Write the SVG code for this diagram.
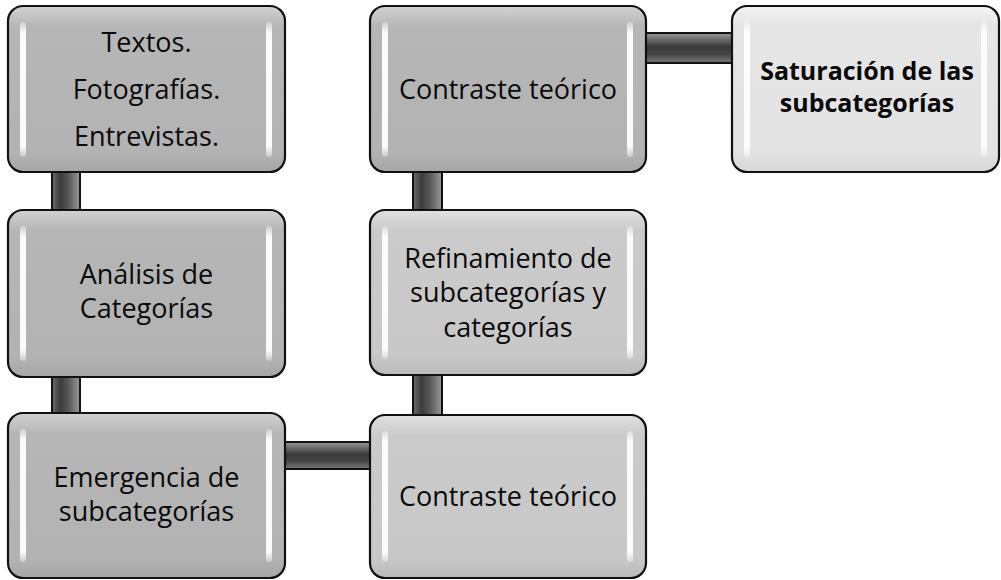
<svg xmlns="http://www.w3.org/2000/svg" width="1001" height="580" viewBox="0 0 1001 580">
  <defs>
    <linearGradient id="gDark" x1="0" y1="0" x2="0" y2="1">
      <stop offset="0" stop-color="#d2d2d2"/>
      <stop offset="0.12" stop-color="#b6b6b6"/>
      <stop offset="0.88" stop-color="#b3b3b3"/>
      <stop offset="1" stop-color="#a6a6a6"/>
    </linearGradient>
    <linearGradient id="gMid" x1="0" y1="0" x2="0" y2="1">
      <stop offset="0" stop-color="#e0e0e0"/>
      <stop offset="0.12" stop-color="#cbcbcb"/>
      <stop offset="0.88" stop-color="#c8c8c8"/>
      <stop offset="1" stop-color="#bababa"/>
    </linearGradient>
    <linearGradient id="gLight" x1="0" y1="0" x2="0" y2="1">
      <stop offset="0" stop-color="#f2f2f2"/>
      <stop offset="0.12" stop-color="#e6e6e6"/>
      <stop offset="0.88" stop-color="#e3e3e3"/>
      <stop offset="1" stop-color="#d6d6d6"/>
    </linearGradient>
    <linearGradient id="gHi" x1="0" y1="0" x2="0" y2="1">
      <stop offset="0" stop-color="#ffffff" stop-opacity="0.3"/>
      <stop offset="0.08" stop-color="#ffffff" stop-opacity="0.95"/>
      <stop offset="0.92" stop-color="#ffffff" stop-opacity="0.95"/>
      <stop offset="1" stop-color="#ffffff" stop-opacity="0.3"/>
    </linearGradient>
    <linearGradient id="gV" x1="0" y1="0" x2="1" y2="0">
      <stop offset="0" stop-color="#6a6a6a"/>
      <stop offset="0.3" stop-color="#3c3c3c"/>
      <stop offset="0.6" stop-color="#5a5a5a"/>
      <stop offset="1" stop-color="#9a9a9a"/>
    </linearGradient>
    <linearGradient id="gH" x1="0" y1="0" x2="0" y2="1">
      <stop offset="0" stop-color="#9a9a9a"/>
      <stop offset="0.45" stop-color="#3a3a3a"/>
      <stop offset="0.7" stop-color="#444444"/>
      <stop offset="1" stop-color="#7a7a7a"/>
    </linearGradient>
  </defs>
  <style>
    .box { stroke: #111111; stroke-width: 2.2; }
    .hi { fill: url(#gHi); }
    .conn { stroke: #111111; stroke-width: 2; }
    .t { font-family: "Open Sans", "Liberation Sans", sans-serif; font-size: 27px; fill: #0a0a0a; text-anchor: middle; }
    .tb { font-family: "Open Sans", "Liberation Sans", sans-serif; font-size: 25px; font-weight: bold; fill: #0a0a0a; text-anchor: middle; }
  </style>
  <rect width="1001" height="580" fill="#ffffff"/>

  <g id="connectors">
    <rect class="conn" x="52" y="171" width="28" height="40" fill="url(#gV)"/>
    <rect class="conn" x="52" y="376" width="28" height="38" fill="url(#gV)"/>
    <rect class="conn" x="284" y="442" width="87" height="27" fill="url(#gH)"/>
    <rect class="conn" x="413" y="374" width="29" height="42" fill="url(#gV)"/>
    <rect class="conn" x="413" y="171" width="29" height="40" fill="url(#gV)"/>
    <rect class="conn" x="645" y="33" width="88" height="30" fill="url(#gH)"/>
  </g>

  <g id="n1">
    <rect class="box" x="8" y="6" width="277" height="166" rx="15" fill="url(#gDark)"/>
    <rect class="hi" x="20" y="22" width="6" height="135" rx="3"/>
    <rect class="hi" x="266" y="22" width="6" height="135" rx="3"/>
    <text class="t" x="146.5" y="52">Textos.</text>
    <text class="t" x="146.5" y="99">Fotografías.</text>
    <text class="t" x="146.5" y="146">Entrevistas.</text>
  </g>

  <g id="n2">
    <rect class="box" x="8" y="210" width="277" height="167" rx="15" fill="url(#gDark)"/>
    <rect class="hi" x="20" y="226" width="6" height="135" rx="3"/>
    <rect class="hi" x="266" y="226" width="6" height="135" rx="3"/>
    <text class="t" x="146.5" y="284">Análisis de</text>
    <text class="t" x="146.5" y="318">Categorías</text>
  </g>

  <g id="n3">
    <rect class="box" x="8" y="413" width="277" height="165" rx="15" fill="url(#gDark)"/>
    <rect class="hi" x="20" y="429" width="6" height="133" rx="3"/>
    <rect class="hi" x="266" y="429" width="6" height="133" rx="3"/>
    <text class="t" x="146.5" y="487">Emergencia de</text>
    <text class="t" x="146.5" y="521">subcategorías</text>
  </g>

  <g id="n4">
    <rect class="box" x="370" y="415" width="276" height="163" rx="15" fill="url(#gMid)"/>
    <rect class="hi" x="382" y="431" width="6" height="131" rx="3"/>
    <rect class="hi" x="627" y="431" width="6" height="131" rx="3"/>
    <text class="t" x="508" y="506">Contraste teórico</text>
  </g>

  <g id="n5">
    <rect class="box" x="370" y="210" width="276" height="165" rx="15" fill="url(#gMid)"/>
    <rect class="hi" x="382" y="226" width="6" height="133" rx="3"/>
    <rect class="hi" x="627" y="226" width="6" height="133" rx="3"/>
    <text class="t" x="508" y="268">Refinamiento de</text>
    <text class="t" x="508" y="302">subcategorías y</text>
    <text class="t" x="508" y="337">categorías</text>
  </g>

  <g id="n6">
    <rect class="box" x="370" y="6" width="276" height="166" rx="15" fill="url(#gDark)"/>
    <rect class="hi" x="382" y="22" width="6" height="135" rx="3"/>
    <rect class="hi" x="627" y="22" width="6" height="135" rx="3"/>
    <text class="t" x="508" y="99">Contraste teórico</text>
  </g>

  <g id="n7">
    <rect class="box" x="732" y="6" width="267" height="166" rx="15" fill="url(#gLight)"/>
    <rect class="hi" x="744" y="22" width="6" height="135" rx="3"/>
    <rect class="hi" x="981" y="22" width="6" height="135" rx="3"/>
    <text class="tb" x="867" y="80">Saturación de las</text>
    <text class="tb" x="867" y="112">subcategorías</text>
  </g>
</svg>
